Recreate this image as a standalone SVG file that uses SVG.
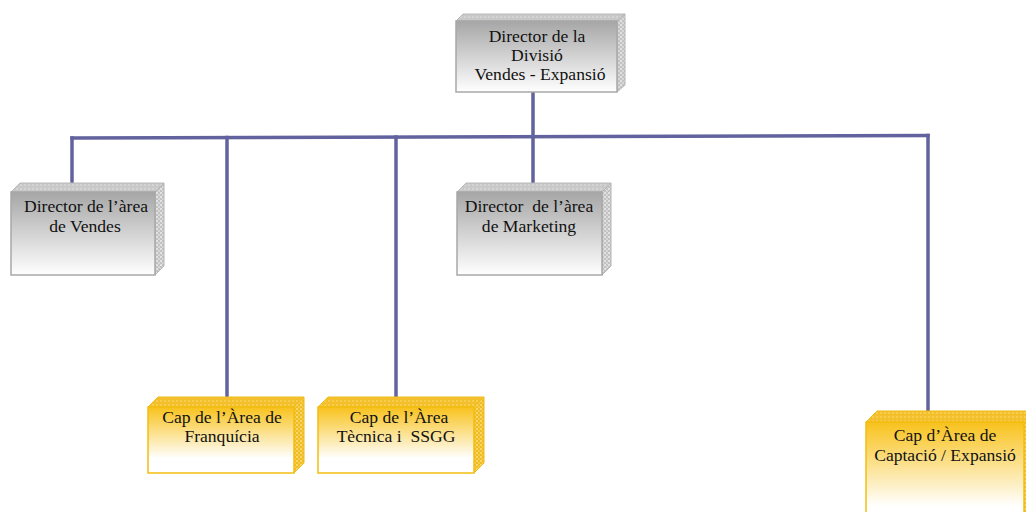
<svg xmlns="http://www.w3.org/2000/svg" width="1026" height="512" viewBox="0 0 1026 512">
  <style>
    .txt { font-family: "Liberation Serif", "Times New Roman", serif; font-size: 17.6px; fill: #111; text-anchor: middle; }
    .link { stroke: #62629e; stroke-width: 3.5; fill: none; stroke-linecap: square; }
    .gfront { fill: url(#gradGray); stroke: #a8a8a8; stroke-width: 1.5; }
    .gtop { fill: url(#texGrayTop); stroke: #b8b8b8; stroke-width: 1; }
    .gside { fill: url(#texGraySide); stroke: #b4b4b4; stroke-width: 1; }
    .yfront { fill: url(#gradGold); stroke: #f2be12; stroke-width: 1.5; }
    .ytop { fill: url(#texGoldTop); stroke: #efbb14; stroke-width: 1; }
    .yside { fill: url(#texGoldSide); stroke: #efbb14; stroke-width: 1; }
  </style>
  <defs>
    <linearGradient id="gradGray" x1="0" y1="0" x2="0" y2="1">
      <stop offset="0" stop-color="#a6a6a6"/>
      <stop offset="1" stop-color="#ffffff"/>
    </linearGradient>
    <linearGradient id="gradGold" x1="0" y1="0" x2="0" y2="1">
      <stop offset="0" stop-color="#f8c21c"/>
      <stop offset="0.78" stop-color="#ffffff"/>
      <stop offset="1" stop-color="#ffffff"/>
    </linearGradient>
    <pattern id="texGrayTop" width="4" height="4" patternUnits="userSpaceOnUse">
      <rect width="4" height="4" fill="#c8c8c8"/>
      <rect width="2" height="2" fill="#d4d4d4"/>
    </pattern>
    <pattern id="texGraySide" width="4" height="4" patternUnits="userSpaceOnUse">
      <rect width="4" height="4" fill="#c2c2c2"/>
      <rect width="2" height="2" fill="#e2e2e2"/>
      <rect x="2" y="2" width="2" height="2" fill="#d8d8d8"/>
    </pattern>
    <pattern id="texGoldTop" width="4" height="4" patternUnits="userSpaceOnUse">
      <rect width="4" height="4" fill="#f3bf2c"/>
      <rect width="2" height="2" fill="#f8cd4c"/>
    </pattern>
    <pattern id="texGoldSide" width="4" height="4" patternUnits="userSpaceOnUse">
      <rect width="4" height="4" fill="#efbc26"/>
      <rect width="2" height="2" fill="#f9d76a"/>
      <rect x="2" y="2" width="2" height="2" fill="#f6cb46"/>
    </pattern>
  </defs>

  <!-- connectors -->
  <g id="connectors">
    <line class="link" x1="533" y1="93" x2="533" y2="136.8"/>
    <line class="link" x1="72" y1="138" x2="928" y2="135.5"/>
    <line class="link" x1="72" y1="138" x2="72" y2="184"/>
    <line class="link" x1="227" y1="137.5" x2="227" y2="398"/>
    <line class="link" x1="396" y1="137" x2="396" y2="398"/>
    <line class="link" x1="533" y1="136.8" x2="533" y2="184"/>
    <line class="link" x1="928" y1="135.5" x2="928" y2="412"/>
  </g>

  <!-- Director de la Divisió -->
  <g id="node-director-divisio">
    <polygon class="gtop" points="456,21 617,21 625,14 463,14"/>
    <polygon class="gside" points="617,21 625,14 625,85 617,92"/>
    <rect class="gfront" x="456" y="21" width="161" height="71"/>
    <text class="txt" x="537" y="42">Director de la</text>
    <text class="txt" x="537" y="61">Divisió</text>
    <text class="txt" x="540" y="80">Vendes - Expansió</text>
  </g>

  <!-- Director de l'àrea de Vendes -->
  <g id="node-vendes">
    <polygon class="gtop" points="11,192 155,192 164,183 20,183"/>
    <polygon class="gside" points="155,192 164,183 164,266 155,275"/>
    <rect class="gfront" x="11" y="192" width="144" height="83"/>
    <text class="txt" x="86" y="212">Director de l’àrea</text>
    <text class="txt" x="85" y="232">de Vendes</text>
  </g>

  <!-- Director de l'àrea de Marketing -->
  <g id="node-marketing">
    <polygon class="gtop" points="457,192 602,192 611,183 466,183"/>
    <polygon class="gside" points="602,192 611,183 611,266 602,275"/>
    <rect class="gfront" x="457" y="192" width="145" height="83"/>
    <text class="txt" x="529" y="212" xml:space="preserve">Director  de l’àrea</text>
    <text class="txt" x="529" y="232">de Marketing</text>
  </g>

  <!-- Cap de l'Àrea de Franquícia -->
  <g id="node-franquicia">
    <polygon class="ytop" points="148,407 294,407 304,397 158,397"/>
    <polygon class="yside" points="294,407 304,397 304,463 294,473"/>
    <rect class="yfront" x="148" y="407" width="146" height="66"/>
    <text class="txt" x="222" y="423">Cap de l’Àrea de</text>
    <text class="txt" x="222" y="442">Franquícia</text>
  </g>

  <!-- Cap de l'Àrea Tècnica i SSGG -->
  <g id="node-tecnica">
    <polygon class="ytop" points="318,407 474,407 484,397 328,397"/>
    <polygon class="yside" points="474,407 484,397 484,463 474,473"/>
    <rect class="yfront" x="318" y="407" width="156" height="66"/>
    <text class="txt" x="399" y="423">Cap de l’Àrea</text>
    <text class="txt" x="396" y="442" xml:space="preserve">Tècnica i  SSGG</text>
  </g>

  <!-- Cap d'Àrea de Captació / Expansió -->
  <g id="node-captacio">
    <polygon class="ytop" points="866,422 1024,422 1035,411 877,411"/>
    <polygon class="yside" points="1024,422 1035,411 1035,520 1024,530"/>
    <rect class="yfront" x="866" y="422" width="158" height="108"/>
    <text class="txt" x="945" y="441">Cap d’Àrea de</text>
    <text class="txt" x="945" y="461">Captació / Expansió</text>
  </g>
</svg>
